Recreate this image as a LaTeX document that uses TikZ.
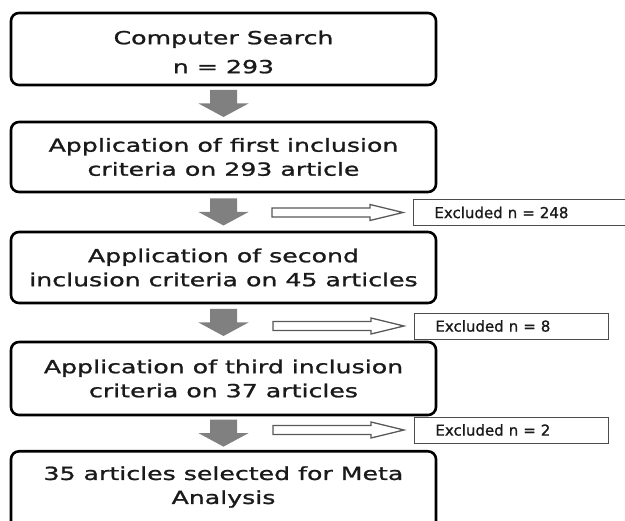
\documentclass[tikz,border=0pt]{standalone}
\usepackage{fontspec}
\setmainfont{DejaVu Sans}[FakeStretch=1.40, FakeBold=1.2]
\newfontfamily\exfont{DejaVu Sans}[FakeStretch=1.0, FakeBold=1]
\usetikzlibrary{calc}
\definecolor{arrgray}{HTML}{808080}
\definecolor{txt}{HTML}{1A1A1A}
\tikzset{
  mainbox/.style={draw=black, line width=2.6pt, rounded corners=8pt, fill=white,
    minimum width=425pt, align=center, text=txt,
    font=\fontsize{18}{24}\selectfont},
  maintext/.style={align=center, text=txt, font=\fontsize{18}{24}\selectfont},
  exbox/.style={draw=black!70, line width=0.9pt, fill=white, anchor=west,
    inner xsep=21pt, inner ysep=0pt, minimum height=26pt, align=left,
    text=txt, font=\exfont\fontsize{15}{16}\selectfont},
  downarr/.pic={\fill[arrgray] (-13.5,-13.5) -- (13.5,-13.5) -- (13.5,0) -- (25,0)
     -- (0,13.5) -- (-25,0) -- (-13.5,0) -- cycle;},
  hollowarr/.pic={\draw[draw=black!65, line width=1.3pt, fill=white, line join=miter]
     (0,0) -- (-33,-8) -- (-33,-4.5) -- (-131,-4.5) -- (-131,4.5) -- (-33,4.5)
     -- (-33,8) -- cycle;}
}
\begin{document}
\begin{tikzpicture}[x=1pt,y=-1pt]
\useasboundingbox (0,0) rectangle (625,521);
\fill[white] (0,0) rectangle (625,521);
\clip (0,0) rectangle (625,521);
\node[mainbox, minimum height=72pt] (b1) at (223.5,49) {};
\node[maintext] (t1) at (223.5,52) {Computer Search\\[5pt]n = 293};
\node[mainbox, minimum height=70pt] (b2) at (223.5,157) {Application of first inclusion\\criteria on 293 article};
\node[mainbox, minimum height=71pt] (b3) at (223.5,267.5) {Application of second\\inclusion criteria on 45 articles};
\node[mainbox, minimum height=73pt] (b4) at (223.5,378.5) {Application of third inclusion\\criteria on 37 articles};
\node[mainbox, minimum height=100pt, anchor=north] (b5) at (223.5,450) {};
\node[maintext] (t5) at (223.5,487) {35 articles selected for Meta\\Analysis};

\path ($(b1.south)!0.5!(b2.north)$) pic {downarr};
\path ($(b2.south)!0.5!(b3.north)$) pic {downarr};
\path ($(b3.south)!0.5!(b4.north)$) pic {downarr};
\path ($(b4.south)!0.5!(b5.north)$) pic {downarr};

\node[exbox, text width=200pt] (e1) at (413,212.5) {Excluded n = 248};
\node[exbox, text width=152pt] (e2) at (414,326) {Excluded n = 8};
\node[exbox, text width=152pt] (e3) at (414,430) {Excluded n = 2};

\path ($(e1.west)+(-10,0)$) pic {hollowarr};
\path ($(e2.west)+(-10,0)$) pic {hollowarr};
\path ($(e3.west)+(-10,0)$) pic {hollowarr};
\end{tikzpicture}
\end{document}
